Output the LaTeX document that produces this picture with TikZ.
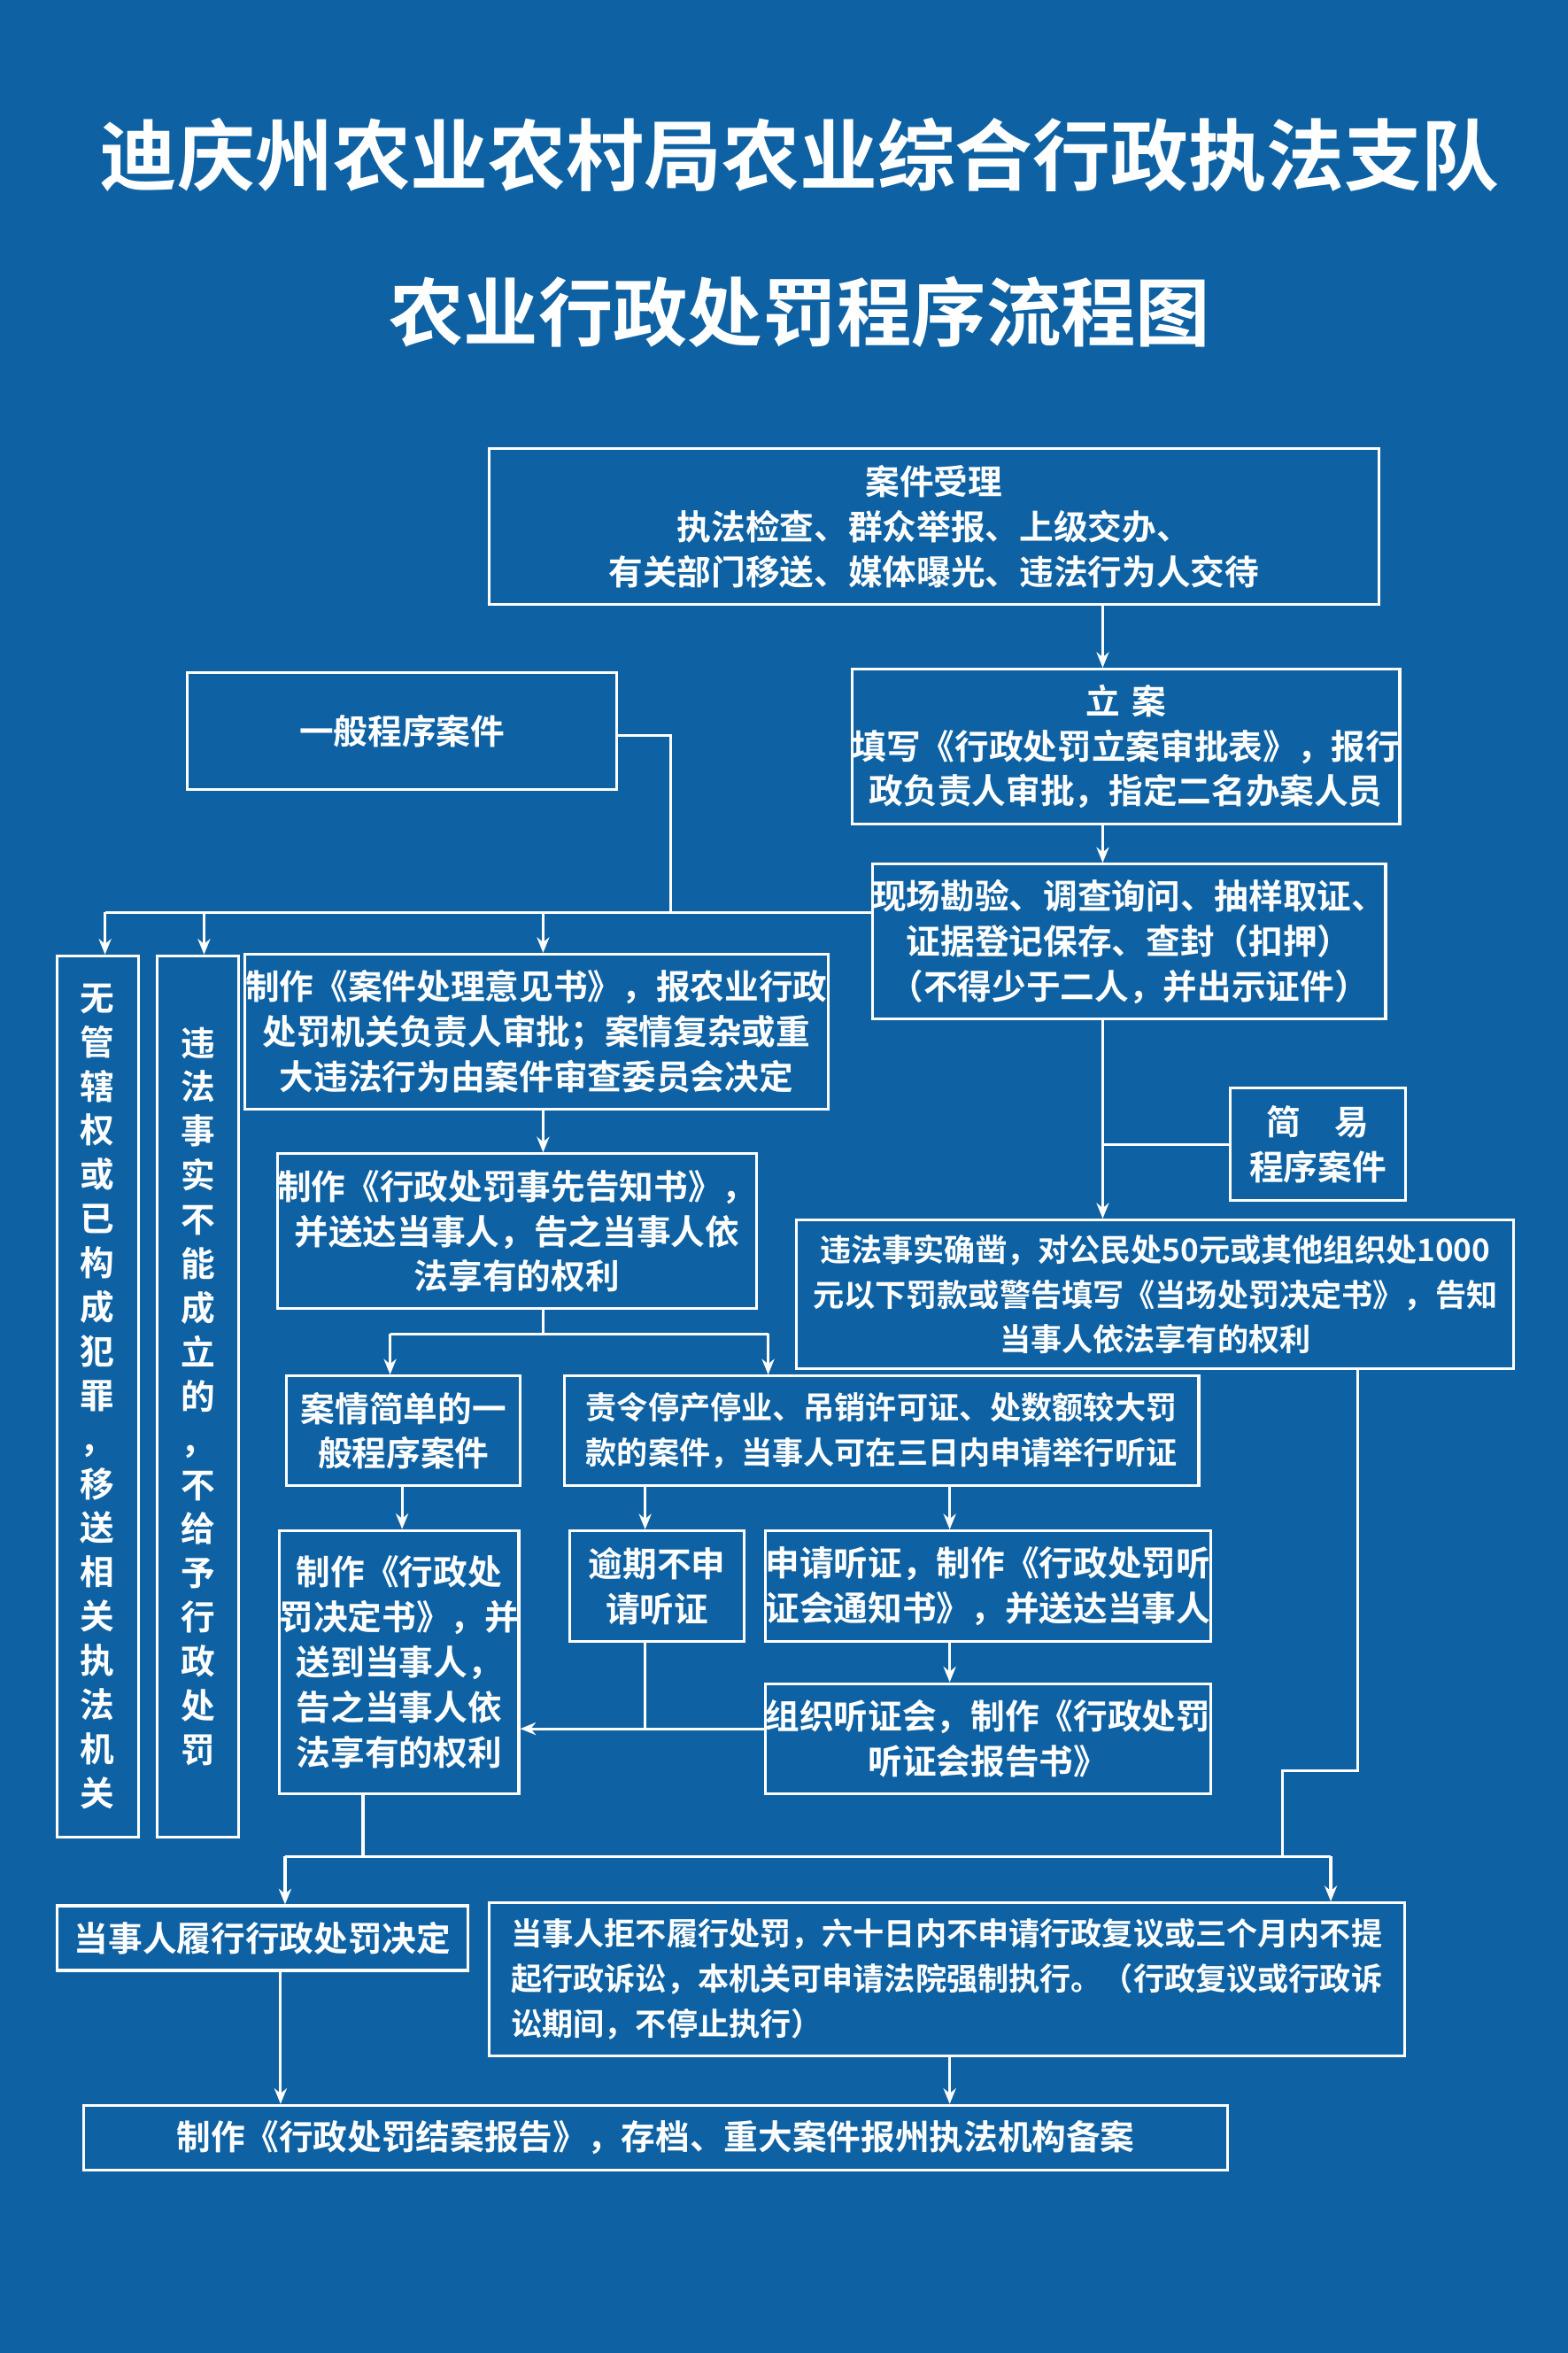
\documentclass[tikz,border=0pt]{standalone}
\usepackage{fontspec}
\setmainfont{Noto Sans CJK SC}[BoldFont={* Bold}]
\XeTeXlinebreaklocale "zh"
\usetikzlibrary{arrows.meta}
\definecolor{bgblue}{HTML}{0E62A3}

\tikzset{
  box/.style = {draw = white, line width = 0.9pt, inner sep = 0pt, align = center,
    text = white, font = \fontsize{11}{14.5}\selectfont\bfseries},
  small/.style = {font = \fontsize{10}{14.5}\selectfont\bfseries},
  line/.style = {draw = white, line width = 0.9pt},
  arr/.style = {line, -{Stealth[length = 5pt, width = 4pt]}}
}

\begin{document}
\begin{tikzpicture}[x = 0.1695mm, y = -0.1695mm]
    \fill[bgblue] (0, 0) rectangle (1045, 1568);
    \useasboundingbox (0, 0) rectangle (1045, 1568);
    % title
    \node[text = white, font = \fontsize{25}{30}\selectfont\bfseries] (Title1) at (533, 103) {迪庆州农业农村局农业综合行政执法支队};
    \node[text = white, font = \fontsize{24}{28}\selectfont\bfseries] (Title2) at (533, 208) {农业行政处罚程序流程图};
    % boxes
    \node[box, minimum width = 100.5mm, minimum height = 17.6mm] (Accept) at (622.5, 351) {案件受理\\执法检查、群众举报、上级交办、\\有关部门移送、媒体曝光、违法行为人交待};
    \node[box, minimum width = 48.5mm, minimum height = 13.2mm] (General) at (268, 487) {一般程序案件};
    \node[box, minimum width = 57.8mm, minimum height = 17.5mm] (Register) at (750.5, 497.5) {立\,\,案\\填写《行政处罚立案审批表》，报行\\政负责人审批，指定二名办案人员};
    \node[box, minimum width = 57.8mm, minimum height = 17.5mm] (Survey) at (752.5, 627.5) {现场勘验、调查询问、抽样取证、\\证据登记保存、查封（扣押）\\（不得少于二人，并出示证件）};
    \node[box, minimum width = 9.2mm, minimum height = 99.5mm, font = \fontsize{11}{14.2}\selectfont\bfseries] (No Jurisdiction) at (65, 930.5) {无\\管\\辖\\权\\或\\已\\构\\成\\犯\\罪\\，\\移\\送\\相\\关\\执\\法\\机\\关};
    \node[box, minimum width = 9.2mm, minimum height = 99.5mm, font = \fontsize{11}{14.2}\selectfont\bfseries] (Not Established) at (132, 930.5) {违\\法\\事\\实\\不\\能\\成\\立\\的\\，\\不\\给\\予\\行\\政\\处\\罚};
    \node[box, minimum width = 65.9mm, minimum height = 17.5mm] (Opinion) at (357.5, 687.5) {制作《案件处理意见书》，报农业行政\\处罚机关负责人审批；案情复杂或重\\大违法行为由案件审查委员会决定};
    \node[box, minimum width = 52mm, minimum height = 17.5mm] (Notice) at (344.5, 820.5) {制作《行政处罚事先告知书》，\\并送达当事人，告之当事人依\\法享有的权利};
    \node[box, minimum width = 19.8mm, minimum height = 12.7mm] (Simple) at (878.5, 762.5) {简\quad 易\\程序案件};
    \node[box, small, minimum width = 81mm, minimum height = 16.8mm] (On Site) at (770, 862.5) {违法事实确凿，对公民处50元或其他组织处1000\\元以下罚款或警告填写《当场处罚决定书》，告知\\当事人依法享有的权利};
    \node[box, minimum width = 26.4mm, minimum height = 12.4mm] (Simple General) at (269, 953.5) {案情简单的一\\般程序案件};
    \node[box, small, minimum width = 71.7mm, minimum height = 12.4mm] (Hearing Case) at (587.5, 953.5) {责令停产停业、吊销许可证、处数额较大罚\\款的案件，当事人可在三日内申请举行听证};
    \node[box, minimum width = 25.8mm, minimum height = 29.7mm] (Decision) at (266, 1107.5) {制作《行政处\\罚决定书》，并\\送到当事人，\\告之当事人依\\法享有的权利};
    \node[box, minimum width = 19.7mm, minimum height = 12.5mm] (Overdue) at (438, 1057) {逾期不申\\请听证};
    \node[box, minimum width = 48.6mm, minimum height = 12.5mm] (Apply) at (658.5, 1057) {申请听证，制作《行政处罚听\\证会通知书》，并送达当事人};
    \node[box, minimum width = 48.6mm, minimum height = 12.4mm] (Hold) at (658.5, 1158.5) {组织听证会，制作《行政处罚\\听证会报告书》};
    \node[box, minimum width = 46.4mm, minimum height = 7.3mm] (Fulfil) at (175, 1291.5) {当事人履行行政处罚决定};
    \node[box, small, minimum width = 103.4mm, minimum height = 17.3mm, align = left] (Refuse) at (631, 1319) {当事人拒不履行处罚，六十日内不申请行政复议或三个月内不提\\起行政诉讼，本机关可申请法院强制执行。（行政复议或行政诉\\讼期间，不停止执行）};
    \node[box, minimum width = 129.2mm, minimum height = 7.3mm] (Close) at (437, 1424.5) {制作《行政处罚结案报告》，存档、重大案件报州执法机构备案};
    % connectors
    \coordinate (Split) at (447, 608);
    \coordinate (Notice Fork) at (362, 889);
    \coordinate (Decision Fork) at (242, 1237);
    \draw[arr] (735, 0 |- Accept.south) -- (735, 0 |- Register.north);
    \draw[arr] (735, 0 |- Register.south) -- (735, 0 |- Survey.north);
    \draw[line] (General.east |- 0, 490) -| (Split);
    \draw[line] (70, 608) -- (Survey.west |- Split);
    \draw[arr] (70, 608) -- (70, 0 |- No Jurisdiction.north);
    \draw[arr] (136, 608) -- (136, 0 |- Not Established.north);
    \draw[arr] (362, 608) -- (362, 0 |- Opinion.north);
    \draw[arr] (735, 0 |- Survey.south) -- (735, 0 |- On Site.north);
    \draw[line] (Simple.west) -- (735, 0 |- Simple.west);
    \draw[arr] (362, 0 |- Opinion.south) -- (362, 0 |- Notice.north);
    \draw[line] (362, 0 |- Notice.south) -- (Notice Fork);
    \draw[line] (260, 889) -- (512, 889);
    \draw[arr] (260, 889) -- (260, 0 |- Simple General.north);
    \draw[arr] (512, 889) -- (512, 0 |- Hearing Case.north);
    \draw[arr] (268, 0 |- Simple General.south) -- (268, 0 |- Decision.north);
    \draw[arr] (430, 0 |- Hearing Case.south) -- (430, 0 |- Overdue.north);
    \draw[arr] (633, 0 |- Hearing Case.south) -- (633, 0 |- Apply.north);
    \draw[arr] (633, 0 |- Apply.south) -- (633, 0 |- Hold.north);
    \draw[line] (430, 0 |- Overdue.south) -- (430, 1152);
    \draw[arr] (Hold.west |- 0, 1152) -- (Decision.east |- 0, 1152);
    \draw[line] (242, 0 |- Decision.south) -- (Decision Fork);
    \draw[line] (190, 1237) -- (887, 1237);
    \draw[line] (905, 0 |- On Site.south) -- (905, 1180) -- (855, 1180) -- (855, 1237);
    \draw[arr] (190, 1237) -- (190, 0 |- Fulfil.north);
    \draw[arr] (887, 1237) -- (887, 0 |- Refuse.north);
    \draw[arr] (187, 0 |- Fulfil.south) -- (187, 0 |- Close.north);
    \draw[arr] (633, 0 |- Refuse.south) -- (633, 0 |- Close.north);
\end{tikzpicture}
\end{document}
